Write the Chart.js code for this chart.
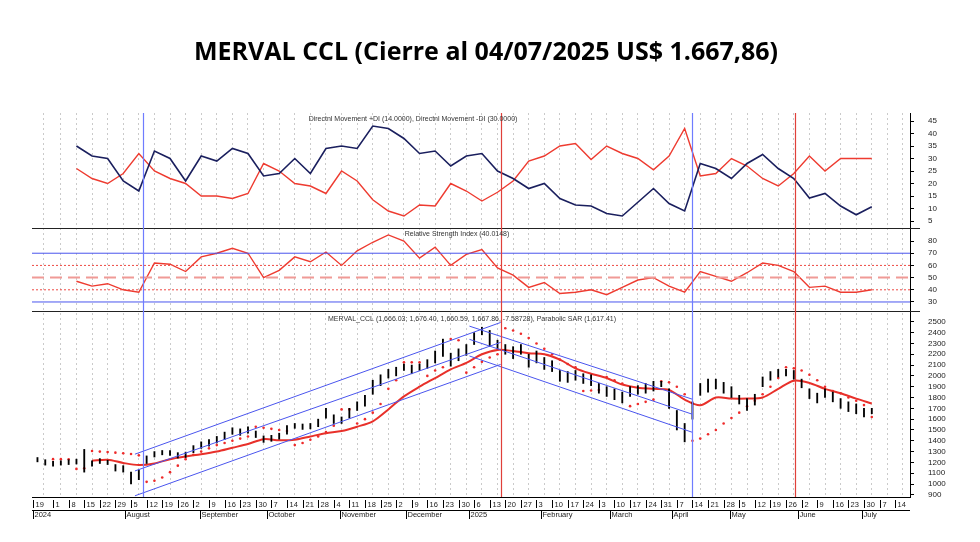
<!DOCTYPE html>
<html>
<head>
<meta charset="utf-8">
<script src="https://cdn.jsdelivr.net/npm/chart.js@4.4.1/dist/chart.umd.min.js"></script>
<style>
  html, body { margin: 0; padding: 0; background: #fff; }
  #wrap { position: relative; width: 980px; height: 542px; }
</style>
</head>
<body>
<div id="wrap"><canvas id="c" width="980" height="542"></canvas></div>
<script>
// x unit = weeks since Monday 1 Jul 2024
const dayLabels = ['19','1','8','15','22','29','5','12','19','26','2','9','16','23','30','7','14','21','28','4','11','18','25','2','9','16','23','30','6','13','20','27','3','10','17','24','3','10','17','24','31','7','14','21','28','5','12','19','26','2','9','16','23','30','7','14'];
const monthLabels = ['2024','August','September','October','November','December','2025','February','March','April','May','June','July'];
const monthPos = [-1.28, 4.6, 9.4, 13.7, 18.4, 22.6, 26.7, 31.3, 35.7, 39.7, 43.4, 47.8, 51.9];

// price bars, every half week starting at week -1
const priceHigh = [1245,1225,1210,1215,1225,1230,1320,1215,1235,1220,
  1180,1170,1110,1130,1260,1300,1310,1310,1290,1295,
  1355,1390,1410,1440,1480,1520,1510,1530,1490,1445,
  1450,1470,1540,1560,1555,1560,1600,1700,1640,1620,
  1700,1760,1820,1960,2010,2060,2080,2110,2100,2110,
  2150,2230,2340,2210,2250,2290,2400,2450,2420,2330,
  2290,2270,2290,2200,2230,2170,2140,2050,2040,2050,
  2020,2010,1930,1900,1880,1850,1900,1910,1930,1950,
  1950,1880,1680,1560,1760,1930,1970,1970,1940,1900,
  1820,1790,1830,1990,2040,2060,2060,2050,1970,1880,
  1840,1880,1850,1790,1760,1740,1700,1700];
const priceLow = [1205,1175,1165,1175,1180,1185,1110,1165,1190,1180,
  1120,1110,1000,1040,1190,1250,1270,1265,1240,1245,
  1290,1330,1350,1380,1410,1460,1450,1470,1430,1385,
  1395,1415,1460,1515,1505,1510,1530,1610,1560,1560,
  1610,1680,1720,1830,1910,1980,2000,2050,2020,2050,
  2070,2120,2180,2090,2140,2190,2290,2380,2270,2250,
  2200,2160,2200,2080,2120,2060,2040,1950,1940,1960,
  1930,1910,1840,1810,1780,1750,1810,1830,1840,1860,
  1900,1700,1500,1390,1600,1820,1850,1880,1840,1800,
  1740,1680,1730,1900,1960,1990,2000,1970,1890,1790,
  1750,1800,1760,1700,1670,1650,1620,1650];
const sar = [null,null,1230,1230,1228,1140,1145,1305,1300,1295,
  1290,1285,1278,1265,1020,1030,1060,1110,1170,1230,
  1270,1300,1330,1360,1380,1400,1420,1440,1530,1520,
  1510,1500,1490,1360,1380,1410,1440,1480,1540,1690,
  1690,1560,1600,1660,1740,1880,1960,2125,2125,2125,
  2000,2050,2080,2340,2330,2030,2080,2130,2170,2200,
  2440,2420,2390,2350,2300,2250,2200,2150,2110,2080,
  1860,1865,1870,1990,1960,1930,1720,1740,1760,1780,
  1950,1940,1900,1830,1400,1420,1460,1500,1560,1610,
  1660,1720,1770,1830,1900,1980,2080,2070,2050,2010,
  1960,1900,1860,1840,1800,1770,1730,1620];

// weekly series starting at week -0.5
const movAvg = [null,null,null,1215,1225,1195,1175,1190,1230,1255,
  1275,1300,1335,1370,1415,1405,1410,1440,1470,1490,
  1530,1580,1690,1810,1900,1980,2060,2120,2200,2240,
  2230,2210,2200,2150,2070,2020,1980,1920,1890,1880,
  1870,1780,1728,1800,1790,1790,1800,1880,1955,1935,
  1880,1840,1790,1745];
const diPlus = [null,null,35,31,30,21,17,33,30,21,
  31,29,34,32,23,24,30,24,34,35,
  34,43,42,38,32,33,27,31,32,25,
  22,18,20,14,11.4,11,8,7,12.5,18,
  12,9,28,26,22,28,31.6,26,22,14.2,
  16,11,7.5,10.7];
const diMinus = [null,null,26,22,20,24,32,25,22,20,
  15,15,14,16,28,25,20,19,16,25,
  21,13.5,9,7,11.4,11,20,17,13,16.5,
  21,29,31,35,36,29.6,35,32,30,25.5,
  31,42,23,24,30,27,22,19,24,31,
  25,30,30,30];
const rsi = [null,null,47,43,45,40,38,62,61,55,
  67,70,74,70,50,56,67,63,71,60,
  72,79,85,80,66,75,60,69,73,58,
  52,42,46,37,38,40,36,42,48,50,
  43,38,55,51,47,54,62,60,55,42,
  43,38,38,40];

// trend channels [startWeek, startValue, endWeek, endValue]
const upChannel = [[5.25,1276,28.7,2494],[5.25,1121,28.7,2310],[5.25,891,28.7,2106]];
const downChannel = [[26.7,2460,41.0,1784],[26.7,2338,41.0,1645],[26.7,2184,41.0,1478]];
const rsiLevels = [70,60,50,40,30];
const markers = [5.77, 28.7, 40.96, 47.56];
const markerColors = ['#6f7cff','#e0403a','#6f7cff','#e0403a'];

const halfWeek = priceHigh.map((_, i) => -1 + i * 0.5);
const week = movAvg.map((_, i) => -0.5 + i);
const xMin = -1.35, xMax = 54.95;
const tickPos = dayLabels.map((_, i) => i === 0 ? -1.28 : i - 1);

const pts = (xs, ys) => ys.map((v, i) => ({ x: xs[i], y: v }));
const seg = s => [{ x: s[0], y: s[1] }, { x: s[2], y: s[3] }];

const datasets = [];
upChannel.concat(downChannel).forEach(s => datasets.push({
  type: 'line', data: seg(s), yAxisID: 'yP', borderColor: '#4a55ee', borderWidth: 1, pointRadius: 0
}));
datasets.push({
  type: 'bar', data: halfWeek.map((w, i) => ({ x: w, y: [priceLow[i], priceHigh[i]] })),
  yAxisID: 'yP', backgroundColor: '#000', barThickness: 1.2, grouped: false
});
datasets.push({
  type: 'line', data: pts(week, movAvg), yAxisID: 'yP', borderColor: '#e8302a', borderWidth: 2, pointRadius: 0, tension: 0.3
});
datasets.push({
  type: 'line', data: pts(halfWeek, sar), yAxisID: 'yP', showLine: false,
  pointRadius: 1.3, pointBackgroundColor: '#ee2a2a', pointBorderWidth: 0
});
datasets.push({
  type: 'line', data: pts(week, diPlus), yAxisID: 'yD', borderColor: '#1a1f5e', borderWidth: 1.6, pointRadius: 0
});
datasets.push({
  type: 'line', data: pts(week, diMinus), yAxisID: 'yD', borderColor: '#ee3b30', borderWidth: 1.4, pointRadius: 0
});
rsiLevels.forEach(v => datasets.push({
  type: 'line', data: [{ x: xMin, y: v }, { x: xMax, y: v }], yAxisID: 'yR', pointRadius: 0,
  borderColor: (v === 70 || v === 30) ? '#4a55ee' : (v === 50 ? '#f09a96' : '#ee4a44'),
  borderWidth: v === 50 ? 2 : 1,
  borderDash: v === 50 ? [12, 6] : (v === 70 || v === 30 ? [] : [2, 2])
}));
datasets.push({
  type: 'line', data: pts(week, rsi), yAxisID: 'yR', borderColor: '#ee3b30', borderWidth: 1.4, pointRadius: 0
});

const yAxis = (min, max, step, weight, tMin, tMax) => ({
  type: 'linear', position: 'right', stack: 'panels', stackWeight: weight, min: min, max: max,
  offset: false,
  border: { color: '#000', width: 1 },
  grid: { drawOnChartArea: false, tickLength: 4, color: '#000' },
  ticks: {
    autoSkip: false, font: { size: 8, family: 'Liberation Sans' }, color: '#222', padding: 14,
    callback: v => String(v)
  },
  afterBuildTicks: s => {
    const t = [];
    for (let v = tMin; v <= tMax; v += step) t.push({ value: v });
    s.ticks = t;
  },
  afterFit: s => { s.width = 70; }
});

const overlay = {
  id: 'overlay',
  afterDatasetsDraw(chart) {
    const ctx = chart.ctx, a = chart.chartArea, x = chart.scales.x;
    ctx.save();
    // panel separators
    ctx.strokeStyle = '#222'; ctx.lineWidth = 1.2;
    ['yD', 'yR'].forEach(id => {
      const b = Math.round(chart.scales[id].bottom) + 0.5;
      ctx.beginPath(); ctx.moveTo(a.left, b); ctx.lineTo(a.right + 10, b); ctx.stroke();
    });
    // marker lines
    markers.forEach((w, i) => {
      const px = Math.round(x.getPixelForValue(w)) + 0.5;
      ctx.strokeStyle = markerColors[i]; ctx.lineWidth = 1.2;
      ctx.beginPath(); ctx.moveTo(px, a.top); ctx.lineTo(px, a.bottom); ctx.stroke();
    });
    // panel titles
    ctx.fillStyle = '#333'; ctx.font = '7px "Liberation Sans"'; ctx.textAlign = 'center';
    ctx.fillText('Directnl Movement +DI (14.0000), Directnl Movement -DI (30.0000)', 413, chart.scales.yD.top + 8);
    ctx.fillText('Relative Strength Index (40.0148)', 457, chart.scales.yR.top + 8);
    ctx.fillText('MERVAL_CCL (1,666.03; 1,676.40, 1,660.59, 1,667.86, -7.58728), Parabolic SAR (1,617.41)', 472, chart.scales.yP.top + 10);
    // x labels
    const y0 = a.bottom;
    ctx.strokeStyle = '#000'; ctx.lineWidth = 1;
    ctx.beginPath(); ctx.moveTo(a.left, y0 + 0.5); ctx.lineTo(a.right, y0 + 0.5);
    ctx.moveTo(a.left, y0 + 13.5); ctx.lineTo(a.right, y0 + 13.5); ctx.stroke();
    ctx.textAlign = 'left'; ctx.fillStyle = '#222'; ctx.font = '7.5px "Liberation Sans"';
    tickPos.forEach((w, i) => {
      const px = Math.round(x.getPixelForValue(w)) + 0.5;
      ctx.beginPath(); ctx.moveTo(px, y0 + 3); ctx.lineTo(px, y0 + 11); ctx.stroke();
      ctx.fillText(dayLabels[i], px + 2, y0 + 10);
    });
    monthLabels.forEach((m, i) => {
      const px = Math.round(x.getPixelForValue(monthPos[i])) + 0.5;
      ctx.beginPath(); ctx.moveTo(px, y0 + 13); ctx.lineTo(px, y0 + 22); ctx.stroke();
      ctx.fillText(m, px + 1, y0 + 20);
    });
    // title
    ctx.fillStyle = '#000'; ctx.textAlign = 'center';
    ctx.font = 'bold 25px "Open Sans"';
    ctx.fillText('MERVAL CCL (Cierre al 04/07/2025 US$ 1.667,86)', 486, 60);
    ctx.restore();
  }
};

new Chart(document.getElementById('c'), {
  data: { datasets: datasets },
  options: {
    responsive: false, animation: false,
    layout: { padding: { top: 113, left: 32, right: 0, bottom: 17 } },
    plugins: { legend: { display: false }, tooltip: { enabled: false } },
    scales: {
      x: {
        type: 'linear', min: xMin, max: xMax, offset: false,
        border: { display: false, dash: [2, 3] },
        grid: { color: '#bdbdbd', drawTicks: false, lineWidth: 0.8 },
        ticks: { display: false },
        afterBuildTicks: s => { s.ticks = tickPos.map(v => ({ value: v })); },
        afterFit: s => { s.height = 28; }
      },
      yD: yAxis(2.2, 48.2, 5, 115, 5, 45),
      yR: yAxis(22.6, 90.7, 10, 83, 30, 80),
      yP: yAxis(880, 2600, 100, 186, 900, 2500)
    }
  },
  plugins: [overlay]
});
</script>
</body>
</html>
